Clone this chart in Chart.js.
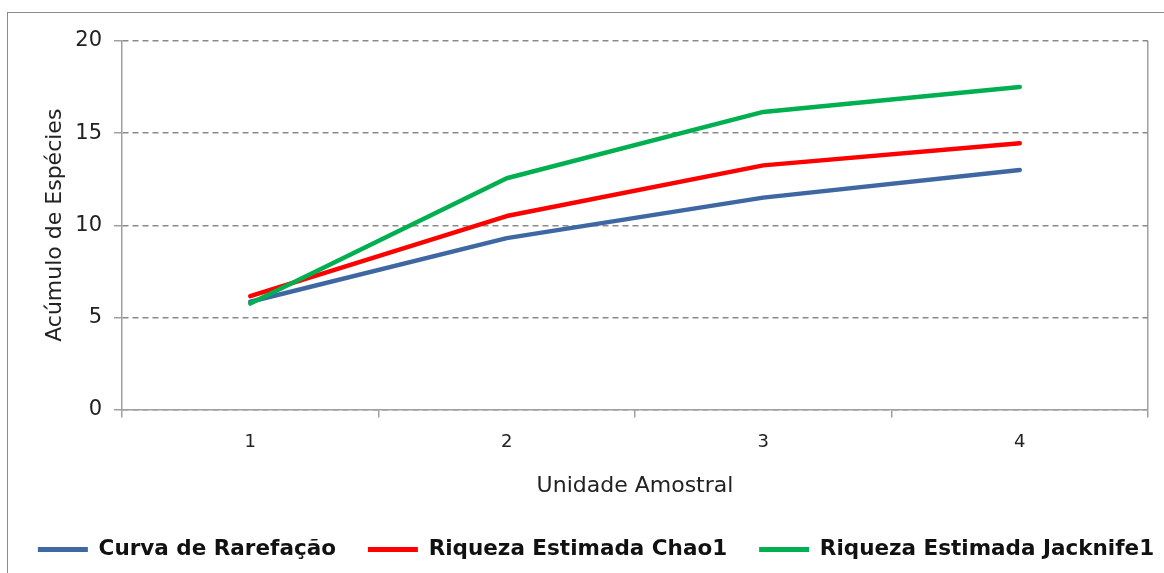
<!DOCTYPE html>
<html>
<head>
<meta charset="utf-8">
<script src="https://cdn.jsdelivr.net/npm/chart.js@4"></script>
<style>
    body { margin: 0; background: #fff; overflow: hidden; }
    #frame {
        position: absolute; left: 7px; top: 12px;
        width: 2000px; height: 2000px;
        border: 1.5px solid #8c8c8c;
    }
    #myChart { position: absolute; left: 0; top: 0; }
</style>
</head>
<body>
<div id="frame"></div>
<canvas id="myChart" width="1164" height="573"></canvas>
<script>
const categories = ['1', '2', '3', '4'];
const rarefacao = [5.85, 9.3, 11.5, 13.0];
const chao1 = [6.15, 10.5, 13.25, 14.45];
const jacknife1 = [5.75, 12.55, 16.15, 17.5];
const yMin = 0;
const yMax = 20;
const yStep = 5;

const gridGray = '#8a8a8a';
const axisGray = '#a0a0a0';
const textColor = '#222';

function serie(label, data, color, order) {
    return {
        label: label,
        data: data,
        borderColor: color,
        backgroundColor: color,
        borderWidth: 4.5,
        borderCapStyle: 'round',
        borderJoinStyle: 'round',
        pointRadius: 0,
        tension: 0,
        order: order
    };
}

const ctx = document.getElementById('myChart').getContext('2d');
const chart = new Chart(ctx, {
    type: 'line',
    data: {
        labels: categories,
        datasets: [
            serie('Curva de Rarefação', rarefacao, '#3f68a3', 3),
            serie('Riqueza Estimada Chao1', chao1, '#ff0000', 2),
            serie('Riqueza Estimada Jacknife1', jacknife1, '#00b050', 1)
        ]
    },
    options: {
        responsive: false,
        animation: false,
        // right padding is negative so the legend row gets the full width;
        // the empty right axis (yPad) gives the plot its margin back
        layout: { padding: { left: 0, top: 41, right: -28, bottom: 2.75 } },
        plugins: {
            tooltip: { enabled: false },
            legend: {
                position: 'bottom',
                labels: {
                    boxWidth: 50,
                    boxHeight: 5,
                    padding: 32,
                    color: '#111',
                    font: { family: 'DejaVu Sans', size: 21.5, weight: 'bold' },
                    sort: (a, b) => a.datasetIndex - b.datasetIndex,
                    generateLabels(c) {
                        const items = Chart.defaults.plugins.legend.labels.generateLabels(c);
                        return items.map(it => Object.assign(it, { lineWidth: 0, fillStyle: it.strokeStyle }));
                    }
                }
            }
        },
        scales: {
            x: {
                offset: true,
                afterFit(scale) { scale.height = 97.25; },
                grid: {
                    offset: true,
                    drawOnChartArea: true,
                    // only the right edge of the plot gets a line
                    color: c => c.index === undefined ? axisGray : 'rgba(0,0,0,0)',
                    lineWidth: 1.5,
                    tickColor: axisGray,
                    tickLength: 8
                },
                border: { display: true, color: axisGray, width: 1.5 },
                ticks: {
                    color: textColor,
                    padding: 14,
                    maxRotation: 0,
                    font: { family: 'DejaVu Sans', size: 18 }
                },
                title: {
                    display: true,
                    text: 'Unidade Amostral',
                    color: textColor,
                    padding: { top: 0, bottom: 7 },
                    font: { family: 'DejaVu Sans', size: 22 }
                }
            },
            y: {
                min: yMin,
                max: yMax,
                afterFit(scale) { scale.width = 122; },
                grid: {
                    color: gridGray,
                    lineWidth: 1.5,
                    tickColor: axisGray,
                    tickLength: 8
                },
                border: { display: true, color: axisGray, width: 1.5, dash: [6, 4] },
                ticks: {
                    stepSize: yStep,
                    color: textColor,
                    padding: 12,
                    font: { family: 'DejaVu Sans', size: 21 }
                },
                title: {
                    display: true,
                    text: 'Acúmulo de Espécies',
                    color: textColor,
                    padding: { top: 44, bottom: 0 },
                    font: { family: 'DejaVu Sans', size: 22, lineHeight: 1 }
                }
            },
            yPad: {
                position: 'right',
                afterFit(scale) { scale.width = 44; },
                grid: { display: false },
                border: { display: false },
                ticks: { display: false }
            }
        }
    }
});
</script>
</body>
</html>
